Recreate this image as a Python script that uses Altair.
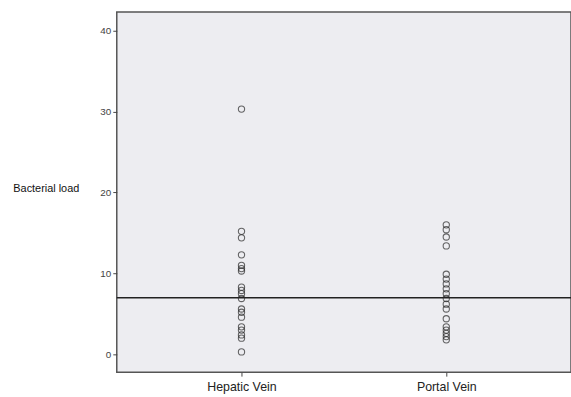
import altair as alt
import pandas as pd

hepatic = [30.3, 15.2, 14.4, 12.3, 11.0, 10.6, 10.3, 8.3, 7.9, 7.5, 6.9,
           5.6, 5.2, 4.6, 3.4, 3.0, 2.4, 2.0, 0.3]
portal = [16.0, 15.4, 14.5, 13.4, 9.9, 9.3, 8.7, 8.1, 7.5, 6.9, 6.2, 5.6,
          4.4, 3.4, 3.0, 2.6, 2.2, 1.8]
categories = ["Hepatic Vein", "Portal Vein"]
threshold = [7.0]

df = pd.DataFrame(
    {"group": [categories[0]] * len(hepatic) + [categories[1]] * len(portal),
     "load": hepatic + portal}
)
ref = pd.DataFrame({"y": threshold})

x_enc = alt.X("group:N", sort=categories,
              scale=alt.Scale(type="point", padding=0.609),
              axis=alt.Axis(title=None, labelAngle=0, labelFontSize=12.5,
                            labelColor="#222", labelFont="Liberation Sans",
                            tickSize=4, tickColor="#444", domain=False,
                            labelPadding=5))
y_scale = alt.Scale(domain=[-2.2, 42.3], nice=False, zero=False)

points = alt.Chart(df).mark_point(
    shape="circle", filled=False, size=40, color="#2a2a2a", strokeWidth=1.1
).encode(
    x=x_enc,
    y=alt.Y("load:Q", scale=y_scale,
            axis=alt.Axis(values=[0, 10, 20, 30, 40], grid=False,
                          title="Bacterial load", titleAngle=0,
                          titleAlign="left", titleBaseline="middle",
                          titleX=-105, titleY=178, titleFontSize=11,
                          titleFontWeight="normal", titleFont="Liberation Sans",
                          titleColor="#111",
                          labelFontSize=10, labelColor="#444",
                          labelFont="Liberation Sans",
                          tickSize=4, tickColor="#444", domain=False,
                          labelPadding=2))
)

rule = alt.Chart(ref).mark_rule(color="#222", strokeWidth=1.4).encode(
    y=alt.Y("y:Q", scale=y_scale)
)

chart = alt.layer(rule, points).properties(
    width=459, height=364,
    padding={"left": 118, "top": 10, "right": 0, "bottom": 23},
    autosize="none",
    background="white",
).configure_view(
    fill="#EDEDF1", stroke="#555", strokeWidth=1.5
)

chart.save("out.html", embed_options={"renderer": "svg", "actions": False})
